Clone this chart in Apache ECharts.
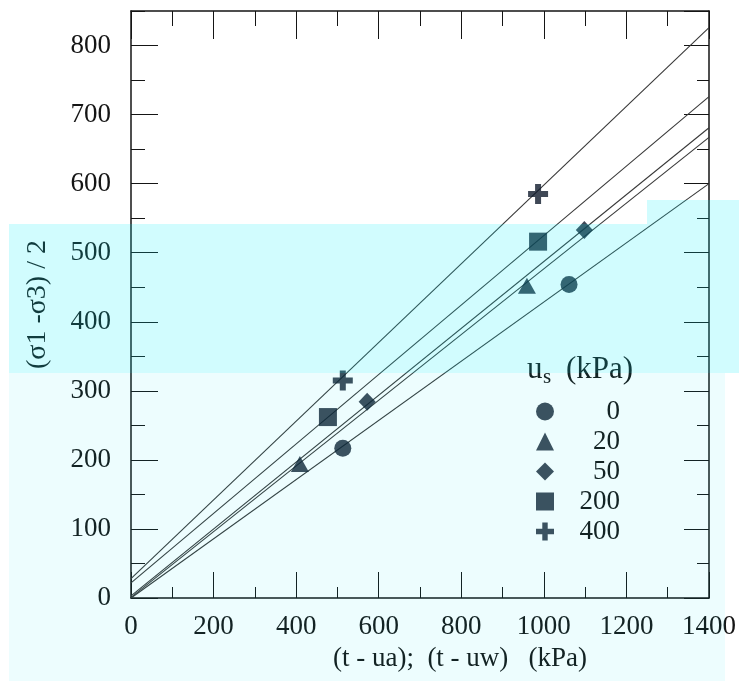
<!DOCTYPE html>
<html>
<head>
<meta charset="utf-8">
<script src="https://cdn.jsdelivr.net/npm/echarts@6/dist/echarts.min.js"></script>
<style>
html,body{margin:0;padding:0;background:#fff;}
#c{width:739px;height:681px;}
</style>
</head>
<body>
<div id="c"></div>
<script>
// ---- data ----
const seriesNames = ['0', '20', '50', '200', '400'];
const pts0 = [[513, 217], [1061, 454]];
const pts20 = [[409, 194], [959, 452]];
const pts50 = [[572, 284], [1098, 533]];
const pts200 = [[477, 262], [986, 516]];
const pts400 = [[513, 315], [986, 585]];
const fit0 = [[0, 0], [1400, 600]];
const fit20 = [[0, 1], [1400, 667]];
const fit50 = [[0, 3], [1400, 681]];
const fit200 = [[0, 22], [1400, 726]];
const fit400 = [[0, 28], [1400, 826]];
const xTickLabels = ['0', '200', '400', '600', '800', '1000', '1200', '1400'];
const yTickLabels = ['0', '100', '200', '300', '400', '500', '600', '700', '800'];

const FONT = 'Liberation Serif';
const INK = '#151515';
const MARK = '#0f1a2c';
const plusPath = 'path://M7,0 H13 V7 H20 V13 H13 V20 H7 V13 H0 V7 H7 Z';

const pointSets = [pts0, pts20, pts50, pts200, pts400];
const fitSets = [fit0, fit20, fit50, fit200, fit400];
const symbols = ['circle', 'triangle', 'diamond', 'rect', plusPath];
const sizes = [17, [18, 16], [17, 18], 18, 20];

function xAx(pos, interval, len, opts) {
  return Object.assign({
    type: 'value', position: pos, min: 0, max: 1400, interval: interval,
    axisLine: { show: false, onZero: false },
    axisTick: { show: true, inside: true, length: len, lineStyle: { color: INK, width: 1 } },
    axisLabel: { show: false }, splitLine: { show: false }
  }, opts || {});
}
function yAx(pos, interval, len, opts) {
  return Object.assign({
    type: 'value', position: pos, min: 0, max: 850, interval: interval,
    axisLine: { show: false, onZero: false },
    axisTick: { show: true, inside: true, length: len, lineStyle: { color: INK, width: 1 } },
    axisLabel: { show: false }, splitLine: { show: false }
  }, opts || {});
}
const frameLine = { show: true, onZero: false, lineStyle: { color: INK, width: 1.5 } };

const series = [];
fitSets.forEach((d, i) => {
  series.push({
    name: 'fit ' + seriesNames[i], type: 'line', data: d, showSymbol: false, silent: true,
    lineStyle: { color: '#383838', width: 1.1 }, z: 1
  });
});
pointSets.forEach((d, i) => {
  series.push({
    name: seriesNames[i], type: 'scatter', data: d, symbol: symbols[i], symbolSize: sizes[i],
    itemStyle: { color: MARK }, z: 3
  });
});

const chart = echarts.init(document.getElementById('c'));
chart.setOption({
  animation: false,
  backgroundColor: '#ffffff',
  grid: { left: 131, right: 30, top: 11, bottom: 83 },
  xAxis: [
    xAx('bottom', 200, 26, {
      axisLine: frameLine,
      axisLabel: {
        show: true, margin: 15, fontFamily: FONT, fontSize: 27, color: INK,
        formatter: (v) => { const i = v / 200; return Number.isInteger(i) ? xTickLabels[i] : ''; }
      },
      name: '(t - ua);  (t - uw)   (kPa)', nameLocation: 'middle', nameGap: 47,
      nameTextStyle: { fontFamily: FONT, fontSize: 27, color: INK, padding: [0, 0, 0, 80] }
    }),
    xAx('bottom', 100, 11),
    xAx('top', 200, 28, { axisLine: frameLine }),
    xAx('top', 100, 15)
  ],
  yAxis: [
    yAx('left', 100, 27, {
      axisLine: frameLine,
      axisLabel: {
        show: true, margin: 20, fontFamily: FONT, fontSize: 27, color: INK, showMaxLabel: false,
        formatter: (v) => { const i = v / 100; return Number.isInteger(i) && yTickLabels[i] ? yTickLabels[i] : ''; }
      },
      name: '(σ1 -σ3) / 2', nameLocation: 'middle', nameGap: 79,
      nameTextStyle: { fontFamily: FONT, fontSize: 28, color: INK }
    }),
    yAx('left', 50, 14),
    yAx('right', 100, 25, { axisLine: frameLine }),
    yAx('right', 50, 12)
  ],
  legend: {
    orient: 'vertical', left: 531, top: 393, itemWidth: 18, itemHeight: 18, itemGap: 3,
    data: seriesNames, selectedMode: false,
    formatter: '{a|{name}}',
    textStyle: {
      rich: { a: { fontFamily: FONT, fontSize: 27, lineHeight: 26, color: INK, width: 61, align: 'right' } }
    }
  },
  series: series,
  graphic: [
    { type: 'text', left: 527, top: 354, z: 50, style: { text: 'u', font: '31px "Liberation Serif"', fill: INK } },
    { type: 'text', left: 543, top: 367, z: 50, style: { text: 's', font: '21px "Liberation Serif"', fill: INK } },
    { type: 'text', left: 566, top: 354, z: 50, style: { text: '(kPa)', font: '31px "Liberation Serif"', fill: INK } },
    { type: 'rect', z: 100, silent: true, shape: { x: 9, y: 224, width: 730, height: 149 }, style: { fill: 'rgba(0,238,248,0.18)' } },
    { type: 'rect', z: 100, silent: true, shape: { x: 647, y: 200, width: 92, height: 24 }, style: { fill: 'rgba(0,238,248,0.18)' } },
    { type: 'rect', z: 100, silent: true, shape: { x: 9, y: 373, width: 716, height: 308 }, style: { fill: 'rgba(0,225,235,0.07)' } }
  ]
});
</script>
</body>
</html>
